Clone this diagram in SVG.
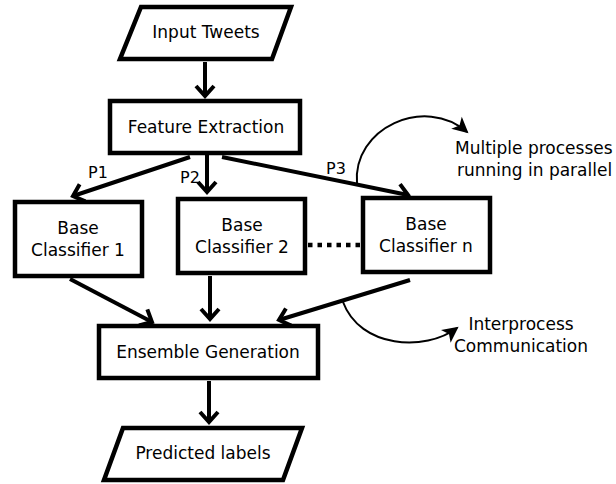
<svg xmlns="http://www.w3.org/2000/svg" width="616" height="484" viewBox="0 0 616 484">
<style>
.box{fill:#fff;stroke:#000;stroke-width:4.5}
.t{font-family:"DejaVu Sans",sans-serif;font-size:17px;fill:#000;text-anchor:middle}
.lbl{font-family:"DejaVu Sans",sans-serif;font-size:17px;fill:#000}
.p{font-family:"DejaVu Sans",sans-serif;font-size:16px;fill:#000}
.ln{fill:none;stroke:#000;stroke-width:4}
.cv{fill:none;stroke:#000;stroke-width:2}
</style>
<defs>
<marker id="open" markerUnits="userSpaceOnUse" markerWidth="24" markerHeight="24" refX="0" refY="0" viewBox="-14 -12 18 24" orient="auto" overflow="visible">
<path d="M-10,-9 L0,0 L-10,9" fill="none" stroke="#000" stroke-width="4" stroke-linejoin="miter"/>
</marker>
<marker id="fill" markerUnits="userSpaceOnUse" markerWidth="20" markerHeight="20" refX="0" refY="0" viewBox="-16 -10 20 20" orient="auto" overflow="visible">
<path d="M2,0 L-14,-8 L-10,0 L-14,8 Z" fill="#000"/>
</marker>
</defs>
<g id="connectors">
<line class="ln" x1="205" y1="62" x2="205" y2="96" marker-end="url(#open)"/>
<line class="ln" x1="190" y1="157" x2="73" y2="196" marker-end="url(#open)"/>
<line class="ln" x1="207" y1="155" x2="207" y2="192" marker-end="url(#open)"/>
<line class="ln" x1="222" y1="157" x2="408" y2="195" marker-end="url(#open)"/>
<line x1="308" y1="245" x2="360" y2="245" stroke="#000" stroke-width="4.5" stroke-dasharray="4.5,5"/>
<line class="ln" x1="70" y1="279" x2="152" y2="322" marker-end="url(#open)"/>
<line class="ln" x1="210" y1="276" x2="210" y2="319" marker-end="url(#open)"/>
<line class="ln" x1="410" y1="280" x2="279" y2="320" marker-end="url(#open)"/>
<line class="ln" x1="209" y1="381" x2="209" y2="422" marker-end="url(#open)"/>
<path class="cv" d="M357,184 C352,128 425,95 467,132" marker-end="url(#fill)"/>
<path class="cv" d="M343,302 C360,348 425,352 457,328" marker-end="url(#fill)"/>
<text class="p" x="88" y="178">P1</text>
<text class="p" x="180" y="183">P2</text>
<text class="p" x="326" y="174">P3</text>
</g>
<g id="input-tweets">
<polygon class="box" points="141,7 291,7 272,59 120,59"/>
<text class="t" x="206" y="38">Input Tweets</text>
</g>
<g id="feature-extraction">
<rect class="box" x="110" y="101" width="190" height="52"/>
<text class="t" x="206" y="133">Feature Extraction</text>
</g>
<g id="base-classifier-1">
<rect class="box" x="15" y="202" width="127" height="74"/>
<text class="t" x="78" y="234">Base</text>
<text class="t" x="78" y="256">Classifier 1</text>
</g>
<g id="base-classifier-2">
<rect class="box" x="178" y="199" width="127" height="74"/>
<text class="t" x="242" y="231">Base</text>
<text class="t" x="242" y="253">Classifier 2</text>
</g>
<g id="base-classifier-n">
<rect class="box" x="363" y="198" width="127" height="74"/>
<text class="t" x="426" y="230">Base</text>
<text class="t" x="426" y="252">Classifier n</text>
</g>
<g id="ensemble-generation">
<rect class="box" x="99" y="326" width="219" height="52"/>
<text class="t" x="208" y="358">Ensemble Generation</text>
</g>
<g id="predicted-labels">
<polygon class="box" points="123,428 302,428 283,480 104,480"/>
<text class="t" x="203" y="459">Predicted labels</text>
</g>
<g id="note-parallel">
<text class="lbl" x="455" y="154">Multiple processes</text>
<text class="lbl" x="457" y="176">running in parallel</text>
</g>
<g id="note-ipc">
<text class="lbl" x="521" y="330" text-anchor="middle">Interprocess</text>
<text class="lbl" x="521" y="352" text-anchor="middle">Communication</text>
</g>
</svg>
